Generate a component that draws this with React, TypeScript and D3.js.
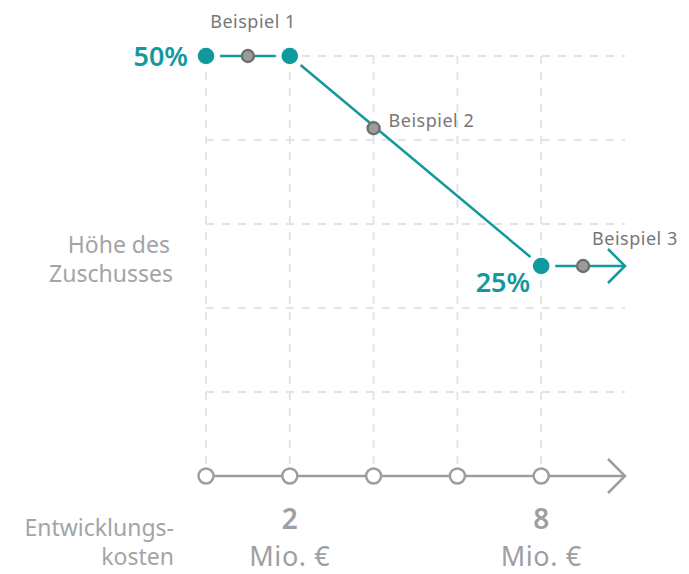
import React from 'react';
import * as d3 from 'd3';

// Förderkurve: Entwicklungskosten (Mio. €) -> Höhe des Zuschusses (%)
const curveCosts = [0, 2, 8, 10];
const curveRates = [50, 50, 25, 25];
const dotCosts = [0, 2, 8]; // teal Knickpunkte
const axisTicks = [0, 2, 4, 6, 8];
const labelledTicks = ['2', '8'];
const gridRates = [10, 20, 30, 40, 50];
const rateLabels = ['50%', '25%'];
const exampleNames = ['Beispiel 1', 'Beispiel 2', 'Beispiel 3'];
const exampleCosts = [1, 4, 9];
const exampleRates = [50, 41.4, 25];

const W = 689;
const H = 574;
const TEAL = '#11999e';
const GREY = '#9b9ea1';
const LABEL = '#a2a5a8';
const FONT = '"Noto Sans", sans-serif';

const App = () => {
  const x = d3.scaleLinear([0, 10], [206, 625]);
  const y = d3.scaleLinear([0, 50], [476, 56]);

  const pts = curveCosts.map((c, i) => [x(c), y(curveRates[i])] as [number, number]);
  const gap = 14;
  // Liniensegmente mit Abstand zu den Punkten
  const segs = d3.pairs(pts).map(([a, b], i) => {
    const dx = b[0] - a[0];
    const dy = b[1] - a[1];
    const len = Math.hypot(dx, dy);
    const ux = dx / len;
    const uy = dy / len;
    const g2 = i === pts.length - 2 ? 1 : gap;
    return [a[0] + ux * gap, a[1] + uy * gap, b[0] - ux * g2, b[1] - uy * g2];
  });

  const end = pts[pts.length - 1];

  return (
    <svg width={W} height={H} style={{ position: 'absolute', left: 0, top: 0 }} fontFamily={FONT}>
      <g stroke="#e4e4e4" strokeWidth={2} strokeDasharray="8 8">
        {axisTicks.map(t => (
          <line key={'v' + t} x1={x(t)} x2={x(t)} y1={y(50)} y2={y(0) - 12} />
        ))}
        {gridRates.map(r => (
          <line key={'h' + r} x1={x(0)} x2={x(10)} y1={y(r)} y2={y(r)} />
        ))}
      </g>

      {/* x-Achse */}
      <line x1={x(0)} x2={x(10)} y1={y(0)} y2={y(0)} stroke={GREY} strokeWidth={2.5} />
      <path
        d={`M${x(10) - 17},${y(0) - 17}L${x(10)},${y(0)}L${x(10) - 17},${y(0) + 17}`}
        fill="none" stroke={GREY} strokeWidth={2.5}
      />
      {axisTicks.map(t => (
        <circle key={t} cx={x(t)} cy={y(0)} r={7.5} fill="#fff" stroke={GREY} strokeWidth={2.5} />
      ))}

      {/* Förderkurve */}
      <g stroke={TEAL} strokeWidth={2.5} fill="none">
        {segs.map((s, i) => (
          <line key={i} x1={s[0]} y1={s[1]} x2={s[2]} y2={s[3]} />
        ))}
        <path d={`M${end[0] - 17},${end[1] - 17}L${end[0]},${end[1]}L${end[0] - 17},${end[1] + 17}`} />
      </g>
      {dotCosts.map(c => (
        <circle key={c} cx={x(c)} cy={y(curveRates[curveCosts.indexOf(c)])} r={8.3} fill={TEAL} />
      ))}

      {exampleCosts.map((c, i) => (
        <circle key={i} cx={x(c)} cy={y(exampleRates[i])} r={6} fill="#9c9c9c" stroke="#6f6f6f" strokeWidth={2.4} />
      ))}

      <g fill="#777" fontSize={18} letterSpacing={0.5}>
        <text x={253} y={28} textAnchor="middle">{exampleNames[0]}</text>
        <text x={x(exampleCosts[1]) + 15} y={y(exampleRates[1]) - 1}>{exampleNames[1]}</text>
        <text x={x(exampleCosts[2]) + 9} y={y(exampleRates[2]) - 21}>{exampleNames[2]}</text>
      </g>

      <g fill={TEAL} fontSize={27} fontWeight={600}>
        <text x={x(0) - 18} y={y(50) + 9.5} textAnchor="end">{rateLabels[0]}</text>
        <text x={x(8) - 11} y={y(25) + 26} textAnchor="end">{rateLabels[1]}</text>
      </g>

      <g fill={LABEL} fontSize={23} textAnchor="end">
        <text x={170} y={253}>Höhe des</text>
        <text x={173} y={282}>Zuschusses</text>
        <text x={174} y={536}>Entwicklungs-</text>
        <text x={174} y={565}>kosten</text>
      </g>

      <g fill="#9da0a3" textAnchor="middle">
        {labelledTicks.map(t => (
          <g key={t}>
            <text x={x(+t)} y={529} fontSize={28} fontWeight={600}>{t}</text>
            <text x={x(+t)} y={566} fontSize={27} letterSpacing={0.6}>Mio. €</text>
          </g>
        ))}
      </g>
    </svg>
  );
};

export default App;
